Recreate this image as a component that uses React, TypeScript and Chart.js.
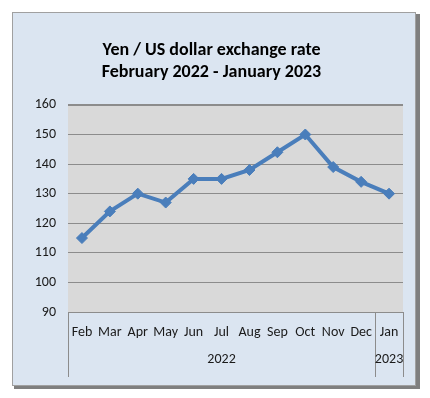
import React, { useEffect, useRef } from "react";
import { Chart, registerables } from "chart.js";

Chart.register(...registerables);

const months = ["Feb", "Mar", "Apr", "May", "Jun", "Jul", "Aug", "Sep", "Oct", "Nov", "Dec", "Jan"];
const years = ["2022", "2023"];
const yearSpans = [11, 1];
const rates = [115, 124, 130, 127, 135, 135, 138, 144, 150, 139, 134, 130];
const titleLines = ["Yen / US dollar exchange rate", "February 2022 - January 2023"];

const FONT = "Carlito, Calibri, 'Liberation Sans Narrow', 'Liberation Sans', sans-serif";

const panelPlugin = {
  id: "panel",
  beforeDraw(chart: any) {
    const { ctx, chartArea } = chart;
    ctx.save();
    ctx.fillStyle = "#ffffff";
    ctx.fillRect(0, 0, chart.width, chart.height);
    // shadow
    ctx.fillStyle = "#7f7f7f";
    ctx.fillRect(14, 14, 406, 375);
    // panel
    ctx.fillStyle = "#dbe5f1";
    ctx.fillRect(12, 12, 404, 374);
    ctx.strokeStyle = "#a0a0a0";
    ctx.lineWidth = 1;
    ctx.strokeRect(12.5, 12.5, 403, 373);
    // plot bg
    ctx.fillStyle = "#d9d9d9";
    ctx.fillRect(chartArea.left, chartArea.top, chartArea.right - chartArea.left, chartArea.bottom - chartArea.top);
    ctx.restore();
  },
  afterDraw(chart: any) {
    const { ctx, chartArea } = chart;
    const xs = chart.scales.x;
    const bottom = 377;
    ctx.save();
    ctx.strokeStyle = "#8c8c8c";
    ctx.lineWidth = 1;
    const bounds: number[] = [xs.left];
    let idx = 0;
    yearSpans.forEach((n) => {
      idx += n;
      if (idx < months.length) {
        bounds.push((xs.getPixelForValue(idx - 1) + xs.getPixelForValue(idx)) / 2);
      } else {
        bounds.push(xs.right);
      }
    });
    bounds.forEach((b) => {
      const x = Math.round(b) + 0.5;
      ctx.beginPath();
      ctx.moveTo(x, chartArea.bottom);
      ctx.lineTo(x, bottom);
      ctx.stroke();
    });
    ctx.fillStyle = "#1a1a1a";
    ctx.font = "14px " + FONT;
    ctx.textAlign = "center";
    ctx.textBaseline = "middle";
    years.forEach((y, i) => {
      ctx.fillText(y, (bounds[i] + bounds[i + 1]) / 2, 359);
    });
    ctx.restore();
  },
};

export default function App() {
  const ref = useRef<HTMLCanvasElement>(null);
  useEffect(() => {
    document.body.style.margin = "0";
    const chart = new Chart(ref.current!, {
      type: "line",
      data: {
        labels: months,
        datasets: [
          {
            data: rates,
            borderColor: "#4a7ebb",
            backgroundColor: "#4a7ebb",
            borderWidth: 4,
            pointStyle: "rectRot",
            pointRadius: 5.5,
            pointBorderWidth: 1,
            tension: 0,
          },
        ],
      },
      plugins: [panelPlugin],
      options: {
        animation: false,
        responsive: false,
        maintainAspectRatio: false,
        layout: { padding: { left: 20, right: 27, top: 0, bottom: 0 } },
        plugins: {
          legend: { display: false },
          tooltip: { enabled: false },
          title: {
            display: true,
            text: titleLines,
            color: "#000000",
            font: { family: FONT, size: 18, weight: "bold", lineHeight: 1.22 },
            padding: { top: 40, bottom: 21 },
          },
        },
        scales: {
          x: {
            offset: true,
            grid: { display: false, drawTicks: false },
            border: { display: true, color: "#8c8c8c", width: 1 },
            ticks: { color: "#1a1a1a", font: { family: FONT, size: 14 }, padding: 12, maxRotation: 0, autoSkip: false },
            afterFit(scale: any) {
              scale.height = 86;
            },
          },
          y: {
            min: 90,
            max: 160,
            ticks: { stepSize: 10, color: "#1a1a1a", font: { family: FONT, size: 14 }, padding: 12 },
            grid: {
              color: "#8c8c8c",
              lineWidth: (c: any) => (c.tick && c.tick.value === 160 ? 2 : 1),
              drawTicks: false,
            },
            border: { display: false },
            afterFit(scale: any) {
              scale.width = 48;
            },
          },
        },
      },
    });
    return () => chart.destroy();
  }, []);
  return (
    <div style={{ position: "absolute", left: 0, top: 0, width: 430, height: 398 }}>
      <canvas ref={ref} width={430} height={398} style={{ width: 430, height: 398, display: "block" }} />
    </div>
  );
}
